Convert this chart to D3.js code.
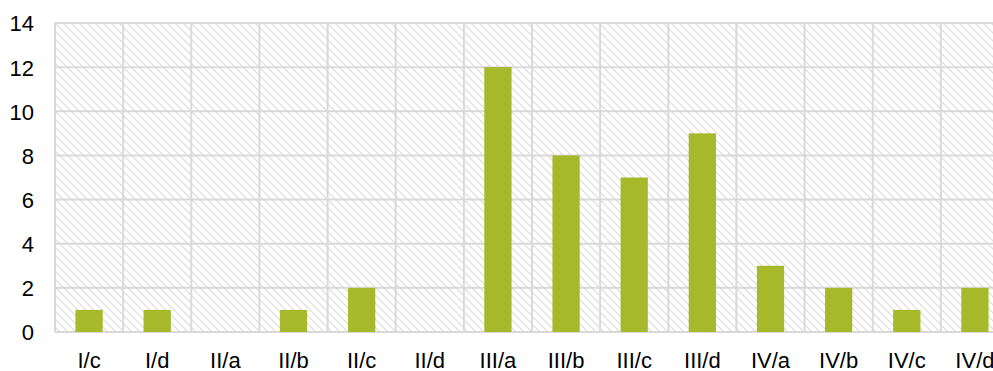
<!DOCTYPE html>
<html>
<head>
<meta charset="utf-8">
<script src="https://cdn.jsdelivr.net/npm/d3@7"></script>
<style>
  html, body { margin: 0; padding: 0; background: #fff; }
  svg { display: block; }
  text { font-family: "Liberation Sans", Arial, sans-serif; fill: #000; }
</style>
</head>
<body>
<svg id="chart" width="993" height="371"></svg>
<script>
// Counts per sub-period
const categories = ["I/c", "I/d", "II/a", "II/b", "II/c", "II/d", "III/a", "III/b", "III/c", "III/d", "IV/a", "IV/b", "IV/c", "IV/d"];
const values = [1, 1, 0, 1, 2, 0, 12, 8, 7, 9, 3, 2, 1, 2];
const yTicks = [0, 2, 4, 6, 8, 10, 12, 14];

const svg = d3.select("#chart");
const plotLeft = 55, plotRight = 1009, plotTop = 23, plotBottom = 332;

const x = d3.scaleBand().domain(categories).range([plotLeft, plotRight])
  .paddingInner(0.6).paddingOuter(0.3);
const y = d3.scaleLinear().domain([0, 14]).range([plotBottom, plotTop]);

// Diagonal hatch fill for the plot background
const defs = svg.append("defs");
const pat = defs.append("pattern")
  .attr("id", "hatch").attr("patternUnits", "userSpaceOnUse")
  .attr("width", 8).attr("height", 8);
pat.append("path")
  .attr("d", "M-2,-2L10,10M-2,6L2,10M6,-2L10,2")
  .attr("stroke", "#e0e0e0").attr("stroke-width", 1.3).attr("fill", "none");

svg.append("rect")
  .attr("x", plotLeft).attr("y", plotTop)
  .attr("width", plotRight - plotLeft).attr("height", plotBottom - plotTop)
  .attr("fill", "url(#hatch)");

// Gridlines
const grid = svg.append("g").attr("stroke", "#d9d9d9").attr("stroke-width", 2);
grid.selectAll("line.h").data(yTicks).join("line")
  .attr("class", "h")
  .attr("x1", plotLeft).attr("x2", plotRight)
  .attr("y1", d => y(d)).attr("y2", d => y(d));
const bounds = d3.range(categories.length + 1).map(i => plotLeft + i * x.step());
grid.selectAll("line.v").data(bounds).join("line")
  .attr("class", "v")
  .attr("x1", d => d).attr("x2", d => d)
  .attr("y1", plotTop).attr("y2", plotBottom);

// Bars
svg.append("g").selectAll("rect").data(values).join("rect")
  .attr("x", (d, i) => x(categories[i]))
  .attr("width", x.bandwidth())
  .attr("y", d => y(d))
  .attr("height", d => y(0) - y(d))
  .attr("fill", "#a6b92a");

// Axes
const yAxis = d3.axisLeft(y).tickValues(yTicks).tickSize(0).tickPadding(0);
const gy = svg.append("g").attr("transform", `translate(${plotLeft - 21},0)`).call(yAxis);
gy.select(".domain").remove();
gy.selectAll("text").style("font-size", "22px").attr("dy", "0.36em")
  .style("font-family", "'Liberation Sans', Arial, sans-serif");

const xAxis = d3.axisBottom(x).tickSize(0).tickPadding(0);
const gx = svg.append("g").attr("transform", `translate(0,${plotBottom})`).call(xAxis);
gx.select(".domain").remove();
gx.selectAll("text").style("font-size", "22px").attr("dy", "0").attr("y", 35.5)
  .style("font-family", "'Liberation Sans', Arial, sans-serif");
</script>
</body>
</html>
